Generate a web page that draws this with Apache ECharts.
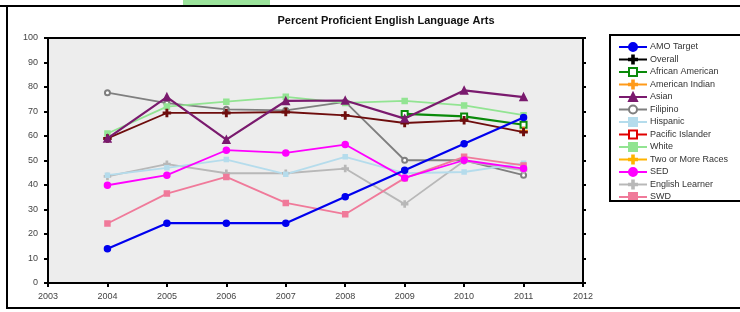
<!DOCTYPE html>
<html>
<head>
<meta charset="utf-8">
<script src="https://cdn.jsdelivr.net/npm/echarts@6/dist/echarts.min.js"></script>
<style>
  html, body { margin: 0; padding: 0; background: #fff; }
  #main { width: 740px; height: 312px; }
</style>
</head>
<body>
<div id="main"></div>
<script>
var years = [2004, 2005, 2006, 2007, 2008, 2009, 2010, 2011];

var target          = [14, 24.4, 24.4, 24.4, 35.2, 46, 56.8, 67.6];
var overall         = [59, 69.4, 69.4, 69.8, 68.4, 65.3, 66.4, 61.6];
var africanAmerican = [null, null, null, null, null, 69, 68, 64.6];
var americanIndian  = [null, null, null, null, null, null, null, 62];
var asian           = [59, 75.9, 58.5, 74.3, 74.5, 67.1, 78.6, 75.9];
var filipino        = [77.7, 73.4, 70.9, 70.5, 73.9, 50.1, 50.1, 44];
var hispanic        = [44, 47, 50.4, 44.4, 51.5, 44.8, 45.3, 48.9];
var pacificIslander = [null, null, null, null, null, null, null, null];
var white           = [61, 72, 74, 76, 73.5, 74.3, 72.5, 68.5];
var twoOrMore       = [null, null, null, null, null, null, null, null];
var sed             = [39.9, 44, 54.2, 53.1, 56.5, 42.9, 50.1, 46.7];
var englishLearner  = [43.5, 48.5, 44.8, 44.8, 46.7, 32.2, 49.8, 46];
var swd             = [24.3, 36.5, 43.3, 32.7, 28.1, 42.8, 51.5, 48];

var plusPath = 'path://M4,0H6V4H10V6H6V10H4V6H0V4H4Z';

function pairs(vals) {
    return years.map(function (y, i) { return [y, vals[i]]; });
}

function line(name, vals, color, symbol, opts) {
    opts = opts || {};
    return {
        name: name,
        type: 'line',
        data: pairs(vals),
        connectNulls: false,
        symbol: symbol,
        symbolSize: opts.size || 6,
        color: color,
        lineStyle: { width: opts.width || 1.8, color: color },
        itemStyle: { color: color, borderColor: color, borderWidth: 1.5 },
        z: opts.z || 2
    };
}

var myChart = echarts.init(document.getElementById('main'));

var option = {
    backgroundColor: '#fff',
    animation: false,
    textStyle: { fontFamily: 'Liberation Sans, Arial, sans-serif' },
    title: {
        text: 'Percent Proficient English Language Arts',
        left: 381,
        top: 10,
        textAlign: 'center',
        textStyle: { fontSize: 11, fontWeight: 'bold', color: '#111' }
    },
    legend: {
        orient: 'vertical',
        left: 613,
        top: 37,
        itemGap: 2.5,
        itemWidth: 28,
        itemHeight: 10,
        textStyle: { fontSize: 9, color: '#333', padding: [0, 0, 0, -2] },
        data: [
            'AMO Target',
            { name: 'Overall', itemStyle: { color: '#000', borderColor: '#000' }, lineStyle: { color: '#000' } },
            'African American', 'American Indian', 'Asian', 'Filipino', 'Hispanic',
            'Pacific Islander', 'White', 'Two or More Races', 'SED', 'English Learner', 'SWD'
        ]
    },
    grid: {
        left: 48, right: 157, top: 38, bottom: 29,
        show: true,
        backgroundColor: '#ededed',
        borderColor: '#000',
        borderWidth: 2
    },
    xAxis: [{
        type: 'value', min: 2003, max: 2012, interval: 1,
        axisLine: { show: true, lineStyle: { color: '#000', width: 2 } },
        axisTick: { show: true, length: 4, lineStyle: { color: '#000', width: 2 } },
        axisLabel: { fontSize: 9, color: '#444', margin: 9, formatter: function (v) { return String(v); } },
        splitLine: { show: false }
    }, {
        type: 'value', min: 2003, max: 2012, interval: 1, position: 'top',
        axisLine: { show: true, lineStyle: { color: '#000', width: 2 } },
        axisTick: { show: true, inside: true, length: 4, lineStyle: { color: '#000', width: 2 } },
        axisLabel: { show: false },
        splitLine: { show: false }
    }],
    yAxis: [{
        type: 'value', min: 0, max: 100, interval: 10,
        axisLine: { show: true, lineStyle: { color: '#000', width: 2 } },
        axisTick: { show: true, length: 4, lineStyle: { color: '#000', width: 2 } },
        axisLabel: { fontSize: 9, color: '#444', margin: 10 },
        splitLine: { show: false }
    }, {
        type: 'value', min: 0, max: 100, interval: 10, position: 'right',
        axisLine: { show: true, lineStyle: { color: '#000', width: 2 } },
        axisTick: { show: true, length: 3, lineStyle: { color: '#000', width: 2 } },
        axisLabel: { show: false },
        splitLine: { show: false }
    }],
    graphic: [
        // bit of the table row above the chart
        { type: 'rect', shape: { x: 183, y: 0, width: 42, height: 6 }, style: { fill: '#9be39b' } },
        { type: 'rect', shape: { x: 225, y: 0, width: 45, height: 6 }, style: { fill: '#9be39b' } },
        { type: 'rect', shape: { x: 0, y: 5, width: 740, height: 2 }, style: { fill: '#000' } },
        // outer frame
        { type: 'rect', shape: { x: 7, y: 6, width: 745, height: 302 }, style: { fill: 'none', stroke: '#000', lineWidth: 2 }, z: 100 },
        // legend box
        { type: 'rect', shape: { x: 610, y: 35, width: 140, height: 166 }, style: { fill: 'none', stroke: '#000', lineWidth: 2 }, z: 100 }
    ],
    series: [
        line('Filipino', filipino, '#7f7f7f', 'emptyCircle', { size: 5 }),
        line('English Learner', englishLearner, '#b8b8b8', plusPath, { size: 6 }),
        line('Hispanic', hispanic, '#b5dcec', 'rect', { size: 4 }),
        line('White', white, '#92e492', 'rect', { size: 5 }),
        line('SWD', swd, '#f07a9a', 'rect', { size: 5 }),
        line('SED', sed, '#ff00ff', 'circle', { size: 6 }),
        line('African American', africanAmerican, '#0a8a0a', 'emptyRect', { size: 6, width: 2.2 }),
        line('American Indian', americanIndian, '#ff9a1a', plusPath, { size: 7 }),
        line('Two or More Races', twoOrMore, '#ffb300', plusPath, { size: 7 }),
        line('Pacific Islander', pacificIslander, '#e00000', 'emptyRect', { size: 6 }),
        line('Overall', overall, '#6e0d0d', plusPath, { size: 7, z: 3 }),
        line('Asian', asian, '#7a1a6e', 'triangle', { size: 7, width: 2.2, z: 4 }),
        line('AMO Target', target, '#0000ee', 'circle', { size: 6, width: 2.2, z: 5 })
    ]
};

myChart.setOption(option);
</script>
</body>
</html>
